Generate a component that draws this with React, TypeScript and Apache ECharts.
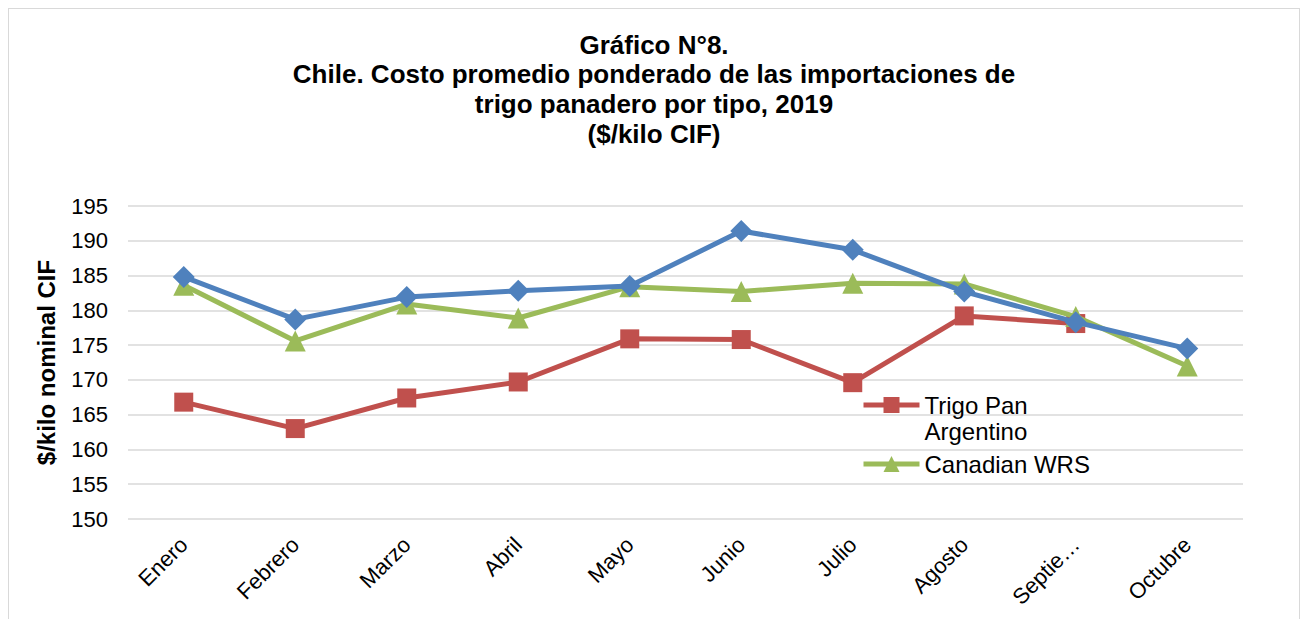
import React, { useEffect, useRef } from "react";
import * as echarts from "echarts";

const titleLines = [
  "Gráfico N°8.",
  "Chile. Costo promedio ponderado de las importaciones de",
  "trigo panadero por tipo, 2019",
  "($/kilo CIF)",
];
const yAxisName = "$/kilo nominal CIF";
const months = [
  "Enero",
  "Febrero",
  "Marzo",
  "Abril",
  "Mayo",
  "Junio",
  "Julio",
  "Agosto",
  "Septiembre",
  "Octubre",
];
const blueName = "Trigo Pan Estadounidense";
const blueValues = [184.8, 178.7, 181.9, 182.8, 183.5, 191.4, 188.7, 182.7, 178.3, 174.5];
const redName = "Trigo Pan Argentino";
const redValues: (number | null)[] = [166.8, 163.0, 167.4, 169.7, 175.9, 175.8, 169.6, 179.2, 178.1, null];
const greenName = "Canadian WRS";
const greenValues = [183.6, 175.6, 180.9, 178.9, 183.4, 182.7, 183.9, 183.8, 179.1, 172.0];
const yMin = 150;
const yMax = 195;
const yInterval = 5;

export default function App() {
  const ref = useRef<HTMLDivElement>(null);
  useEffect(() => {
    if (!ref.current) return;
    const chart = echarts.init(ref.current, null, { renderer: "svg" });
    const font = "Arial, 'Liberation Sans', Helvetica, sans-serif";
    const legendText = {
      fontFamily: font,
      fontSize: 24,
      color: "#000",
      lineHeight: 26,
    };
    chart.setOption({
      animation: false,
      textStyle: { fontFamily: font },
      title: {
        text: titleLines.join("\n"),
        left: "center",
        top: 16,
        textStyle: {
          fontFamily: font,
          fontSize: 26,
          fontWeight: "bold",
          color: "#000",
          lineHeight: 29.6,
        },
      },
      legend: [
        {
          data: [redName],
          orient: "vertical",
          left: 847,
          top: 352,
          itemWidth: 56,
          itemHeight: 20,
          lineStyle: { width: 5 },
          formatter: () => "\nTrigo Pan\nArgentino",
          textStyle: legendText,
        },
        {
          data: [greenName],
          orient: "vertical",
          left: 847,
          top: 437,
          itemWidth: 56,
          itemHeight: 20,
          lineStyle: { width: 5 },
          textStyle: legendText,
        },
      ],
      grid: { left: 119, right: 56, top: 197, bottom: 110, containLabel: false },
      xAxis: {
        type: "category",
        data: months,
        boundaryGap: true,
        axisLine: { show: false },
        axisTick: { show: false },
        axisLabel: {
          rotate: 45,
          margin: 22,
          fontSize: 22,
          color: "#000",
          fontFamily: font,
          formatter: (v: string) => (v === "Septiembre" ? "Septie…" : v),
        },
      },
      yAxis: {
        type: "value",
        min: yMin,
        max: yMax,
        interval: yInterval,
        name: yAxisName,
        nameLocation: "middle",
        nameGap: 70,
        nameTextStyle: { fontSize: 24, fontWeight: "bold", color: "#000", fontFamily: font },
        axisLine: { show: false },
        axisTick: { show: false },
        axisLabel: { fontSize: 22, color: "#000", margin: 20, fontFamily: font },
        splitLine: { lineStyle: { color: "#d9d9d9", width: 1.5 } },
      },
      series: [
        {
          name: blueName,
          type: "line",
          data: blueValues,
          symbol: "diamond",
          symbolSize: 22,
          lineStyle: { color: "#4f81bd", width: 5 },
          itemStyle: { color: "#4f81bd" },
          z: 4,
        },
        {
          name: redName,
          type: "line",
          data: redValues,
          symbol: "rect",
          symbolSize: 19,
          lineStyle: { color: "#c0504d", width: 5 },
          itemStyle: { color: "#c0504d" },
          z: 2,
        },
        {
          name: greenName,
          type: "line",
          data: greenValues,
          symbol: "triangle",
          symbolSize: 21,
          lineStyle: { color: "#9bbb59", width: 5 },
          itemStyle: { color: "#9bbb59" },
          z: 3,
        },
      ],
    });
    return () => chart.dispose();
  }, []);
  return (
    <div
      style={{
        width: 1290,
        height: 620,
        border: "1px solid #d9d9d9",
        background: "#fff",
      }}
    >
      <div ref={ref} style={{ width: 1290, height: 620 }} />
    </div>
  );
}
